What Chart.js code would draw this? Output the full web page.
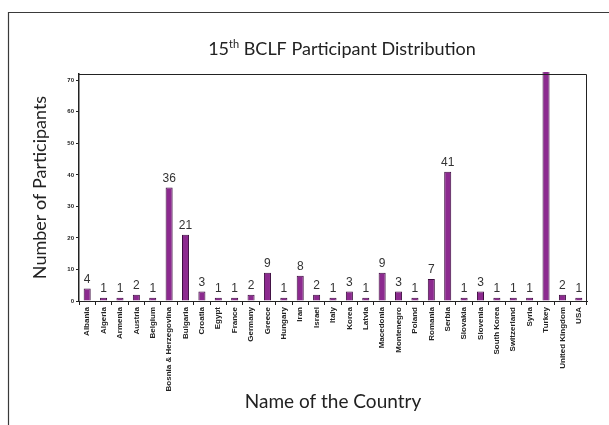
<!DOCTYPE html>
<html>
<head>
<meta charset="utf-8">
<script src="https://cdn.jsdelivr.net/npm/chart.js@4/dist/chart.umd.min.js"></script>
<style>
html,body{margin:0;padding:0;background:#fff;}
#wrap{width:609px;height:425px;position:relative;}
</style>
</head>
<body>
<div id="wrap"><canvas id="c" width="609" height="425"></canvas></div>
<script>
const countries = ["Albania","Algeria","Armenia","Austria","Belgium","Bosnia & Herzegovina","Bulgaria","Croatia","Egypt","France","Germany","Greece","Hungary","Iran","Israel","Italy","Korea","Latvia","Macedonia","Montenegro","Poland","Romania","Serbia","Slovakia","Slovenia","South Korea","Switzerland","Syria","Turkey","United Kingdom","USA"];
const participants = [4,1,1,2,1,36,21,3,1,1,2,9,1,8,2,1,3,1,9,3,1,7,41,1,3,1,1,1,73,2,1];
const yTicks = [0,10,20,30,40,50,60,70];
const titleMain = ["15","th"," BCLF Participant Distribution"];
const yTitle = "Number of Participants";
const xTitle = "Name of the Country";
const Y_MAX = 72;

const framePlugin = {
  id:'frame',
  beforeDraw(chart){
    const ctx = chart.ctx;
    ctx.save();
    ctx.fillStyle='#fff';
    ctx.fillRect(0,0,chart.width,chart.height);
    ctx.strokeStyle='#3a3a3a';
    ctx.lineWidth=1.2;
    ctx.beginPath();
    ctx.moveTo(8.5,425);
    ctx.lineTo(8.5,12.5);
    ctx.lineTo(609,12.5);
    ctx.stroke();
    // title
    ctx.fillStyle='#222';
    ctx.textBaseline='alphabetic';
    const f1='18px Lato', f2='11px Lato';
    ctx.font=f1; const w1=ctx.measureText(titleMain[0]).width;
    ctx.font=f2; const w2=ctx.measureText(titleMain[1]).width;
    ctx.font=f1; const w3=ctx.measureText(titleMain[2]).width;
    let x = 342 - (w1+w2+w3)/2;
    const yb = 55;
    ctx.textAlign='left';
    ctx.font=f1; ctx.fillText(titleMain[0],x,yb); x+=w1;
    ctx.font=f2; ctx.fillText(titleMain[1],x,yb-7); x+=w2;
    ctx.font=f1; ctx.fillText(titleMain[2],x,yb);
    ctx.restore();
  },
  afterDatasetsDraw(chart){
    const ctx = chart.ctx;
    const a = chart.chartArea;
    ctx.save();
    ctx.strokeStyle='#222';
    ctx.lineWidth=1;
    ctx.beginPath();
    ctx.moveTo(a.left, a.top+0.5);
    ctx.lineTo(a.right-0.5, a.top+0.5);
    ctx.lineTo(a.right-0.5, a.bottom);
    ctx.stroke();
    const meta = chart.getDatasetMeta(0);
    ctx.fillStyle='#333';
    ctx.font='12px "Liberation Sans", Arial, sans-serif';
    ctx.textAlign='center';
    ctx.textBaseline='bottom';
    meta.data.forEach((bar,i)=>{
      const v = participants[i];
      if (v > Y_MAX) return;
      ctx.fillText(String(v), bar.x, bar.y-3);
    });
    ctx.restore();
  }
};

new Chart(document.getElementById('c'), {
  type:'bar',
  data:{
    labels: countries,
    datasets:[{
      data: participants,
      backgroundColor:'#8c2a8f',
      borderColor:'#3e0d40',
      borderWidth:1,
      categoryPercentage:1,
      barPercentage:0.43,
      clip:2
    }]
  },
  options:{
    responsive:false,
    animation:false,
    devicePixelRatio:1,
    layout:{padding:{left:20,right:22,top:74,bottom:8}},
    plugins:{legend:{display:false},tooltip:{enabled:false}},
    scales:{
      x:{
        offset:true,
        grid:{display:true,drawOnChartArea:false,offset:true,color:'#222',tickLength:4},
        border:{display:true,color:'#222',width:1},
        ticks:{
          autoSkip:false,maxRotation:90,minRotation:90,padding:2,
          color:'#222',
          font:{family:'"Liberation Sans", Arial, sans-serif',size:8,weight:'bold'}
        },
        title:{display:true,text:xTitle,color:'#222',
          font:{family:'Lato',size:19},padding:{top:0,bottom:4}},
        afterFit(s){ s.height = 425-8-301; }
      },
      y:{
        min:0,max:Y_MAX,
        afterBuildTicks(s){ s.ticks = yTicks.map(v=>({value:v})); },
        grid:{display:true,drawOnChartArea:false,color:'#222',tickLength:3},
        border:{display:true,color:'#222',width:1.5},
        ticks:{color:'#222',padding:2,
          font:{family:'"Liberation Sans", Arial, sans-serif',size:6,weight:'bold'}},
        title:{display:true,text:yTitle,color:'#222',
          font:{family:'Lato',size:18},padding:{top:9,bottom:0}},
        afterFit(s){ s.width = 79-20; }
      }
    }
  },
  plugins:[framePlugin]
});
</script>
</body>
</html>
